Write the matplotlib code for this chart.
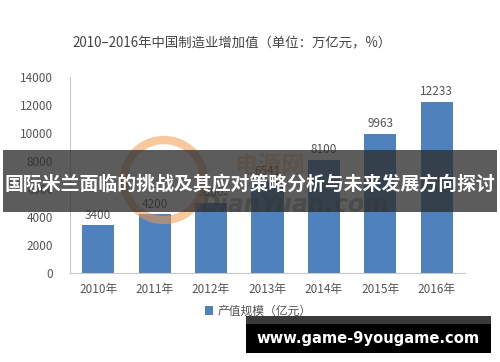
import matplotlib
matplotlib.use("Agg")
import matplotlib.pyplot as plt
from matplotlib.patches import Rectangle, Circle

plt.rcParams['font.family'] = ['Noto Sans CJK SC', 'DejaVu Sans']

# 数据
years = ['2010年', '2011年', '2012年', '2013年', '2014年', '2015年', '2016年']
values = [3400, 4200, 5000, 6541, 8100, 9963, 12233]
yticks = [0, 2000, 4000, 6000, 8000, 10000, 12000, 14000]

title = '2010–2016年中国制造业增加值（单位：万亿元，%）'
legend_label = '产值规模（亿元）'
banner_text = '国际米兰面临的挑战及其应对策略分析与未来发展方向探讨'
site_text = 'www.game-9yougame.com'

W, H = 500, 362
fig = plt.figure(figsize=(W / 100, H / 100), dpi=100)
fig.patch.set_facecolor('white')

# ===== 主图 =====
ax = fig.add_axes([70 / W, 1 - 273 / H, 395 / W, 196 / H])
x = range(len(years))
bars = ax.bar(x, values, width=0.57, color='#4f81bd', label=legend_label, zorder=2)
for xi, v in zip(x, values):
    ax.text(xi, v + 250, str(v), ha='center', va='bottom', fontsize=8.5, color='#555555')

ax.set_xlim(-0.5, len(years) - 0.5)
ax.set_ylim(0, 14000)
ax.set_yticks(yticks)
ax.set_yticklabels([str(t) for t in yticks], fontsize=8.5, color='#555555')
ax.set_xticks(list(x))
ax.set_xticklabels(years, fontsize=8.5, color='#555555')
ax.tick_params(length=0, pad=12)
ax.tick_params(axis='x', pad=7)
for s in ['top', 'right']:
    ax.spines[s].set_visible(False)
ax.spines['left'].set_color('#c8c8c8')
ax.spines['bottom'].set_color('#c8c8c8')

fig.text(232 / W, 1 - 43 / H, title, ha='center', va='center', fontsize=9.6, color='#444444')

fig.legend(handles=[bars], labels=[legend_label], loc='center',
           bbox_to_anchor=(258 / W, 1 - 311 / H), frameon=False, fontsize=8.5,
           handlelength=0.7, handleheight=0.7, handletextpad=0.4, labelcolor='#555555')

# ===== 覆盖层（水印 + 横幅）=====
ov = fig.add_axes([0, 0, 1, 1], zorder=5)
ov.set_xlim(0, W)
ov.set_ylim(H, 0)
ov.set_axis_off()

# 水印
ring = Circle((164, 180), 40, fill=False, edgecolor='#f39a4c', linewidth=6, alpha=0.55,
              transform=ov.transData, zorder=3)
ov.add_artist(ring)
ov.text(270, 166, '电源网', ha='center', va='center', fontsize=17, fontweight='bold',
        color='#f39a4c', alpha=0.45)
ov.text(295, 205, 'DianYuan.com', ha='center', va='center', fontsize=17, fontweight='bold',
        style='italic', color='#555555', alpha=0.45, family='DejaVu Sans')

# 中间横幅
ov.add_patch(Rectangle((3, 150), 494, 62, facecolor='#2e2e2e', alpha=0.78, edgecolor='none',
                       zorder=4))
ov.text(250, 184, banner_text, ha='center', va='center', fontsize=13.6, fontweight='bold',
        color='white', zorder=6)

# 底部网址
ov.add_patch(Rectangle((246, 316), 245, 8, facecolor='#3a3a3a', edgecolor='none'))
ov.add_patch(Rectangle((246, 324), 245, 29, facecolor='black', edgecolor='none'))
ov.text(368, 338, site_text, ha='center', va='center', fontsize=10.6, fontweight='bold',
        color='white', family='DejaVu Sans')

fig.savefig('out.png', dpi=100)
